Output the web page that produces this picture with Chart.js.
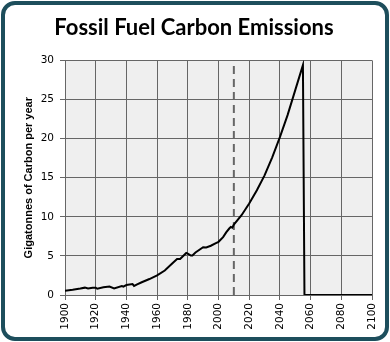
<!DOCTYPE html>
<html>
<head>
<meta charset="utf-8">
<script src="https://cdn.jsdelivr.net/npm/chart.js@4"></script>
<style>
  html, body { margin: 0; padding: 0; background: #ffffff; }
  #wrap { width: 390px; height: 342px; }
</style>
</head>
<body>
<div id="wrap"><canvas id="chart" width="390" height="342"></canvas></div>
<script>
const years = [1900, 1905, 1910, 1913, 1915, 1918, 1920, 1921, 1925, 1929, 1932, 1937, 1938, 1940,
  1944, 1945, 1947, 1950, 1955, 1960, 1965, 1970, 1973, 1975, 1979, 1980, 1982, 1983, 1985,
  1990, 1992, 1995, 1998, 2000, 2003, 2005, 2007, 2008, 2009, 2010,
  2015, 2020, 2025, 2030, 2035, 2040, 2045, 2050, 2055, 2056, 2100]
const emissions = [0.53, 0.66, 0.82, 0.94, 0.84, 0.94, 0.93, 0.80, 0.98, 1.08, 0.85, 1.14, 1.08, 1.28,
  1.40, 1.16, 1.35, 1.63, 2.04, 2.50, 3.13, 4.05, 4.61, 4.60, 5.37, 5.30, 5.05, 5.05, 5.43,
  6.10, 6.09, 6.30, 6.61, 6.80, 7.40, 8.00, 8.50, 8.70, 8.60, 9.00,
  10.2, 11.7, 13.4, 15.3, 17.6, 20.2, 23.0, 26.2, 29.4, 0, 0]
const markerYear = 2010
const yTicks = [0, 5, 10, 15, 20, 25, 30]

const series = years.map((y, i) => ({ x: y, y: emissions[i] }))
const marker = [{ x: markerYear, y: yTicks[0] }, { x: markerYear, y: yTicks[yTicks.length - 1] }]

const frame = {
  id: 'frame',
  beforeDraw(chart) {
    const { ctx, chartArea: a } = chart
    ctx.save()
    ctx.fillStyle = '#ffffff'
    ctx.fillRect(0, 0, chart.width, chart.height)
    ctx.fillStyle = '#efefef'
    ctx.fillRect(a.left, a.top, a.right - a.left, a.bottom - a.top)
    ctx.restore()
  },
  afterDraw(chart) {
    const { ctx } = chart
    ctx.save()
    ctx.strokeStyle = '#1d4e5c'
    ctx.lineWidth = 4
    ctx.beginPath()
    ctx.roundRect(3, 3, chart.width - 6, chart.height - 6, 12)
    ctx.stroke()
    ctx.restore()
  }
}

new Chart(document.getElementById('chart'), {
  type: 'line',
  data: {
    datasets: [
      {
        data: series,
        borderColor: '#000000',
        borderWidth: 2,
        pointRadius: 0,
        tension: 0
      },
      {
        data: marker,
        borderColor: '#666666',
        borderWidth: 2,
        borderDash: [8, 5],
        pointRadius: 0
      }
    ]
  },
  options: {
    responsive: false,
    animation: false,
    layout: { padding: { left: 8, right: 10, top: 0, bottom: 0 } },
    plugins: {
      legend: { display: false },
      tooltip: { enabled: false },
      title: {
        display: true,
        text: 'Fossil Fuel Carbon Emissions',
        color: '#000000',
        font: { family: 'Lato', size: 22, weight: 'bold' },
        padding: { top: 15, bottom: 19 }
      }
    },
    scales: {
      x: {
        type: 'linear',
        min: 1900,
        max: 2100,
        afterFit: s => { s.height = 47 },
        ticks: {
          stepSize: 20,
          minRotation: 90,
          maxRotation: 90,
          padding: 3,
          color: '#000000',
          font: { family: 'DejaVu Sans', size: 10.5 },
          callback: v => String(v)
        },
        grid: { color: '#666666', lineWidth: 1, tickLength: 5 },
        border: { color: '#666666' }
      },
      y: {
        min: 0,
        max: 30,
        afterFit: s => { s.width = 57 },
        ticks: {
          stepSize: 5,
          padding: 6,
          color: '#000000',
          font: { family: 'DejaVu Sans', size: 10.5 }
        },
        grid: { color: '#666666', lineWidth: 1, tickLength: 5 },
        border: { color: '#666666' },
        title: {
          display: true,
          text: 'Gigatonnes of Carbon per year',
          color: '#000000',
          font: { family: 'Liberation Sans', size: 11, weight: 'bold' },
          padding: { top: 14, bottom: 0 }
        }
      },
      spacer: {
        type: 'linear',
        position: 'right',
        afterFit: s => { s.width = 8 },
        ticks: { display: false },
        grid: { display: false },
        border: { display: false }
      }
    }
  },
  plugins: [frame]
})
</script>
</body>
</html>
